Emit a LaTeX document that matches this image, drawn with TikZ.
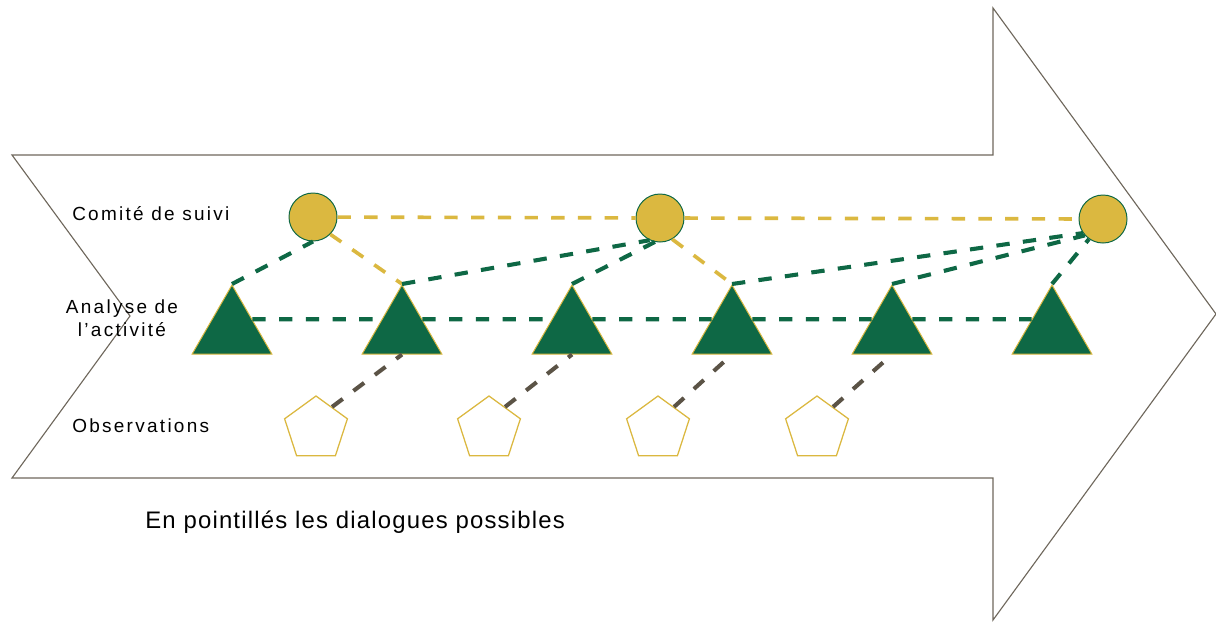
\documentclass[tikz,border=0pt]{standalone}
\usepackage{fontspec}
\setmainfont{Liberation Sans}
\newfontfamily\etiq[LetterSpace=12]{Liberation Sans}
\newfontfamily\legende[LetterSpace=5]{Liberation Sans}
\usetikzlibrary{shapes.geometric}
\definecolor{vert}{HTML}{0E6845}
\definecolor{jaune}{HTML}{DBB840}
\definecolor{brun}{HTML}{5B5346}
\definecolor{gris}{HTML}{6E675C}
\begin{document}
\begin{tikzpicture}[x=0.025cm, y=-0.025cm,
    comite/.style={draw=vert, fill=jaune, circle, minimum size=1.2cm, inner sep=0pt, line width=0.7pt},
    analyse/.style={draw=jaune, fill=vert, regular polygon, regular polygon sides=3, minimum size=2.3cm, inner sep=0pt, line width=0.7pt},
    observation/.style={draw=jaune, fill=white, regular polygon, regular polygon sides=5, minimum size=1.65cm, inner sep=0pt, line width=0.9pt},
    pointille/.style={line width=2.9pt, dash pattern=on 9.5pt off 9.5pt},
    lienvert/.style={pointille, draw=vert},
    lienjaune/.style={pointille, draw=jaune, line width=2.6pt},
    lienbrun/.style={pointille, draw=brun},
    etiquette/.style={font=\etiq\fontsize{13.5}{16.4}\selectfont, inner sep=0pt}]
        \useasboundingbox (0,0) rectangle (1216,621);

        % Grande fleche
        \draw[gris, line width=0.8pt] (12,155) -- (993,155) -- (993,8) -- (1216,314)
            -- (993,620) -- (993,478) -- (12,478) -- (130,316) -- cycle;

        % Etiquettes des niveaux
        \node[etiquette, anchor=west] (lcomite) at (72,214) {Comité de suivi};
        \node[etiquette, align=center] (lanalyse) at (122,318) {Analyse de\\l’activité};
        \node[etiquette, anchor=west] (lobs) at (72,426) {Observations};

        % Comite de suivi
        \node[comite] (c1) at (313,217) {};
        \node[comite] (c2) at (660,218) {};
        \node[comite] (c3) at (1103,219) {};

        % Analyse de l'activite
        \node[analyse] (t1) at (232,331) {};
        \node[analyse] (t2) at (402,331) {};
        \node[analyse] (t3) at (572,331) {};
        \node[analyse] (t4) at (732,331) {};
        \node[analyse] (t5) at (892,331) {};
        \node[analyse] (t6) at (1052,331) {};

        % Observations
        \node[observation] (p1) at (316,429) {};
        \node[observation] (p2) at (489,429) {};
        \node[observation] (p3) at (658,429) {};
        \node[observation] (p4) at (817,429) {};

        % Dialogues entre comites
        \draw[lienjaune] (c1) -- (c2);
        \draw[lienjaune] (c2) -- (c3);
        \draw[lienjaune] (c1.-45) -- (t2.north);
        \draw[lienjaune] (c2.-60) -- (t4.north);

        % Dialogues analyse / comite
        \draw[lienvert] (t1.north) -- (c1.south);
        \draw[lienvert] (t2.north) -- (c2.245);
        \draw[lienvert] (t3.north) -- (c2.258);
        \draw[lienvert] (t4.north) -- (c3.215);
        \draw[lienvert] (t5.north) -- (c3.222);
        \draw[lienvert] (t6.north) -- (c3.235);

        % Dialogues entre analyses
        \draw[lienvert] (t1.30) -- (t2.150);
        \draw[lienvert] (t2.30) -- (t3.150);
        \draw[lienvert] (t3.30) -- (t4.150);
        \draw[lienvert] (t4.30) -- (t5.150);
        \draw[lienvert] (t5.30) -- (t6.150);

        % Observations vers analyses
        \draw[lienbrun] (p1.54) -- (t2.south);
        \draw[lienbrun] (p2.54) -- (t3.south);
        \draw[lienbrun] (p3.54) -- (t4.south);
        \draw[lienbrun] (p4.54) -- (t5.south);

        % Legende
        \node[anchor=west, inner sep=0pt, font=\legende\fontsize{17}{20}\selectfont] (legende) at (145,522) {En pointillés les dialogues possibles};
      \end{tikzpicture}
\end{document}
